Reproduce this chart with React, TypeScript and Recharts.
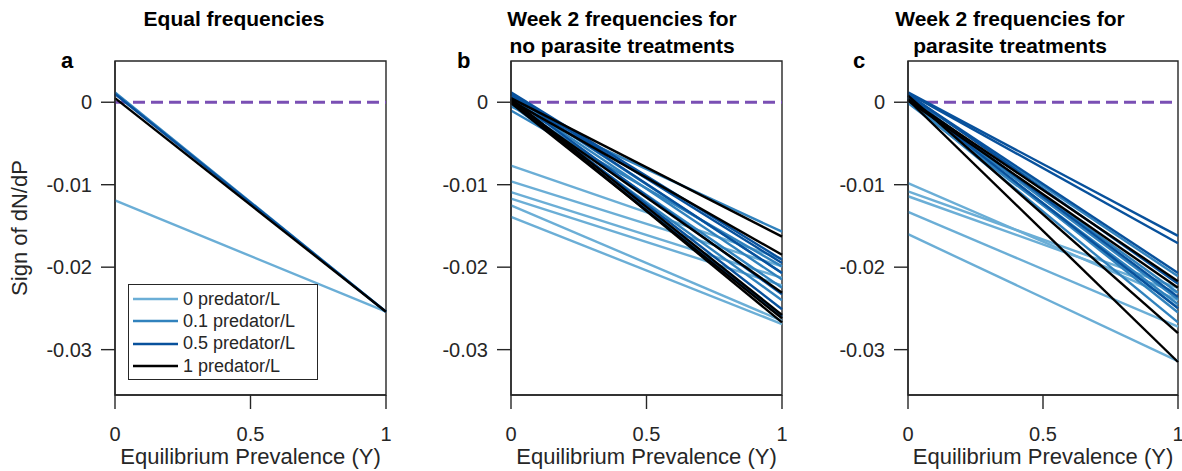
import { LineChart, Line, XAxis, YAxis, ReferenceLine, ReferenceArea, Legend, Label } from 'recharts'

const FONT = '"Liberation Sans", Arial, Helvetica, sans-serif'
const INK = '#262626'

const X_TICKS = [0, 0.5, 1]
const Y_TICKS = [0, -0.01, -0.02, -0.03]
const Y_DOMAIN: [number, number] = [-0.0355, 0.005]

const SERIES = ['0 predator/L', '0.1 predator/L', '0.5 predator/L', '1 predator/L']
const COLORS = ['#6baed6', '#3182bd', '#08519c', '#000000']

// every pair is [dN/dP at Y = 0, dN/dP at Y = 1]
const A_P0 = [[-0.0119, -0.0254]]
const A_P01 = [[0.0012, -0.0254]]
const A_P05 = [[0.001, -0.0254]]
const A_P1 = [[0.0005, -0.0254]]

const B_P0 = [[-0.0077, -0.019], [-0.0096, -0.0199], [-0.0109, -0.0213], [-0.0117, -0.0222], [-0.0125, -0.0265], [-0.0139, -0.0269]]
const B_P01 = [[-0.0005, -0.0157], [-0.001, -0.0199], [0.0005, -0.0215], [0.0008, -0.0207], [0, -0.0225], [-0.0003, -0.024]]
const B_P05 = [[0.0012, -0.0191], [0.0009, -0.0207], [0.0006, -0.0233], [0.0003, -0.0251], [0.001, -0.0195], [0, -0.026]]
const B_P1 = [[0.0005, -0.0163], [0.0002, -0.0185], [0, -0.0231], [0.0004, -0.0258], [-0.0001, -0.0262], [0.0003, -0.0267]]

const C_P0 = [[-0.0098, -0.024], [-0.0108, -0.0225], [-0.0114, -0.0231], [-0.0133, -0.0272], [-0.016, -0.0314]]
const C_P01 = [[0.0008, -0.0211], [0.0004, -0.0239], [0, -0.0245], [-0.0001, -0.0249], [0.0006, -0.0255], [0.0002, -0.0267], [0.0005, -0.0231]]
const C_P05 = [[0.0012, -0.0162], [0.0011, -0.0171], [0.0009, -0.0207], [0.001, -0.022], [0.0007, -0.0236], [0.0005, -0.025]]
const C_P1 = [[0.0004, -0.0217], [0.0002, -0.0225], [0.0008, -0.028], [0.0003, -0.0315]]

function buildRows(groups: number[][][]) {
  const rows: Record<string, number>[] = [{ x: 0 }, { x: 1 }]
  const keys: { key: string; color: string }[] = []
  groups.forEach((g, gi) =>
    g.forEach((seg, si) => {
      const key = `p${gi}_${si}`
      rows[0][key] = seg[0]
      rows[1][key] = seg[1]
      keys.push({ key, color: COLORS[gi] })
    })
  )
  return { rows, keys }
}

function LegendBox() {
  return (
    <div style={{ border: `1.3px solid ${INK}`, background: '#fff', padding: '3px 0 2px 4px', fontFamily: FONT, fontSize: 18, color: INK }}>
      {SERIES.map((s, i) => (
        <div key={s} style={{ display: 'flex', alignItems: 'center', height: 22.3 }}>
          <svg width={45} height={6} style={{ marginRight: 5 }}>
            <line x1={0} x2={45} y1={3} y2={3} stroke={COLORS[i]} strokeWidth={2.4} />
          </svg>
          {s}
        </div>
      ))}
    </div>
  )
}

type PanelProps = {
  left: number
  axisW: number
  plotW: number
  groups: number[][][]
  yLabel?: boolean
  legend?: boolean
}

function Panel({ left, axisW, plotW, groups, yLabel, legend }: PanelProps) {
  const { rows, keys } = buildRows(groups)
  const width = axisW + plotW + 6
  const tick = { fill: INK, fontSize: 20, fontFamily: FONT }
  return (
    <div style={{ position: 'absolute', left, top: 0 }}>
      <LineChart width={width} height={471} data={rows} margin={{ top: 61, right: 6, bottom: 0, left: 0 }}>
        <ReferenceArea x1={0} x2={1} y1={Y_DOMAIN[0]} y2={Y_DOMAIN[1]} fill="none" stroke={INK} strokeWidth={1.4} ifOverflow="visible" />
        <XAxis type="number" dataKey="x" domain={[0, 1]} ticks={X_TICKS} height={76} tickSize={14} tickMargin={18}
          stroke={INK} strokeWidth={1.4} tick={tick} tickFormatter={(v: number) => String(v)}>
          <Label value="Equilibrium Prevalence (Y)" position="insideBottom" offset={7} style={{ fill: INK, fontSize: 22, fontFamily: FONT }} />
        </XAxis>
        <YAxis type="number" domain={Y_DOMAIN} ticks={Y_TICKS} width={axisW} tickSize={14} tickMargin={9} allowDataOverflow
          stroke={INK} strokeWidth={1.4} tick={tick} tickFormatter={(v: number) => String(v)}>
          {yLabel && <Label value="Sign of dN/dP" angle={-90} position="insideLeft" offset={19} style={{ textAnchor: 'middle', fill: INK, fontSize: 22, fontFamily: FONT }} />}
        </YAxis>
        <ReferenceLine y={0} stroke="#7a4fb4" strokeWidth={3} strokeDasharray="12 6" />
        {keys.map(k => (
          <Line key={k.key} type="linear" dataKey={k.key} stroke={k.color} strokeWidth={2.4} dot={false} activeDot={false} isAnimationActive={false} />
        ))}
        {legend && (
          <Legend layout="vertical" align="center" verticalAlign="middle" wrapperStyle={{ left: 128, top: 284, width: 190 }} content={() => <LegendBox />} />
        )}
      </LineChart>
    </div>
  )
}

const titleStyle = { position: 'absolute' as const, fontFamily: FONT, fontWeight: 700, fontSize: 21, lineHeight: '27px', textAlign: 'center' as const, color: '#000', width: 300, top: 5 }
const letterStyle = { position: 'absolute' as const, fontFamily: FONT, fontWeight: 700, fontSize: 22, color: '#000', top: 48 }

export default function App() {
  return (
    <div style={{ position: 'absolute', left: 0, top: 0, width: 1182, height: 471, background: '#fff' }}>
      <Panel left={0} axisW={115} plotW={271} groups={[A_P0, A_P01, A_P05, A_P1]} yLabel legend />
      <Panel left={411} axisW={100} plotW={271} groups={[B_P0, B_P01, B_P05, B_P1]} />
      <Panel left={808} axisW={100} plotW={270} groups={[C_P0, C_P01, C_P05, C_P1]} />
      <div style={{ ...titleStyle, left: 234 - 150 }}>Equal frequencies</div>
      <div style={{ ...titleStyle, left: 622 - 150 }}>Week 2 frequencies for<br />no parasite treatments</div>
      <div style={{ ...titleStyle, left: 1010 - 150 }}>Week 2 frequencies for<br />parasite treatments</div>
      <div style={{ ...letterStyle, left: 61 }}>a</div>
      <div style={{ ...letterStyle, left: 457 }}>b</div>
      <div style={{ ...letterStyle, left: 853 }}>c</div>
    </div>
  )
}
